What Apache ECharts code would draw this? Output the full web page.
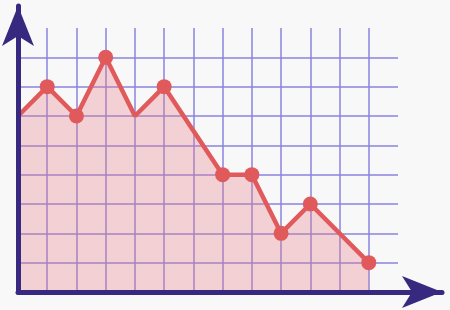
<!DOCTYPE html>
<html>
<head>
<meta charset="utf-8">
<script src="https://cdn.jsdelivr.net/npm/echarts@6/dist/echarts.min.js"></script>
<style>
html,body{margin:0;padding:0;background:#f8f8f8;}
#c{width:450px;height:310px;}
</style>
</head>
<body>
<div id="c"></div>
<script>
// Data
var xValues = [0, 1, 2, 3, 4, 5, 7, 8, 9, 10, 12];
var yValues = [6, 7, 6, 8, 6, 7, 4, 4, 2, 3, 1];
var unmarkedX = [0, 4];
var xMax = 13;
var yMax = 9;

var lineColor = '#e05a5c';
var data = xValues.map(function (x, i) {
  var item = { value: [x, yValues[i]] };
  if (unmarkedX.indexOf(x) >= 0) item.symbol = 'none';
  return item;
});

var chart = echarts.init(document.getElementById('c'), null, { renderer: 'canvas' });
chart.setOption({
  backgroundColor: '#f8f8f8',
  animation: false,
  grid: [
    { left: 18, right: 52, top: 28, bottom: 18 },
    { left: 18, right: 8, top: 6, bottom: 18 }
  ],
  xAxis: [
    {
      type: 'value', gridIndex: 0, min: 0, max: xMax, interval: 1,
      axisLine: { show: false }, axisTick: { show: false }, axisLabel: { show: false },
      splitLine: { show: true, showMinLine: false, showMaxLine: false,
        lineStyle: { color: '#8a84de', width: 1.5 } }
    },
    {
      type: 'value', gridIndex: 1, min: 0, max: 1, z: 10,
      axisLine: { show: true, symbol: ['none', 'arrow'], symbolSize: [24, 40],
        lineStyle: { color: '#36297f', width: 5 } },
      axisTick: { show: false }, axisLabel: { show: false }, splitLine: { show: false }
    }
  ],
  yAxis: [
    {
      type: 'value', gridIndex: 0, min: 0, max: yMax, interval: 1,
      axisLine: { show: false }, axisTick: { show: false }, axisLabel: { show: false },
      splitLine: { show: true, showMinLine: false, showMaxLine: false,
        lineStyle: { color: '#8a84de', width: 1.5 } }
    },
    {
      type: 'value', gridIndex: 1, min: 0, max: 1, z: 10,
      axisLine: { show: true, symbol: ['none', 'arrow'], symbolSize: [24, 40],
        lineStyle: { color: '#36297f', width: 5 } },
      axisTick: { show: false }, axisLabel: { show: false }, splitLine: { show: false }
    }
  ],
  series: [{
    type: 'line',
    xAxisIndex: 0, yAxisIndex: 0,
    data: data,
    symbol: 'circle',
    symbolSize: 15,
    showAllSymbol: true,
    lineStyle: { color: lineColor, width: 4.5 },
    itemStyle: { color: lineColor },
    areaStyle: { color: 'rgba(232,122,132,0.45)' }
  }]
});
</script>
</body>
</html>
